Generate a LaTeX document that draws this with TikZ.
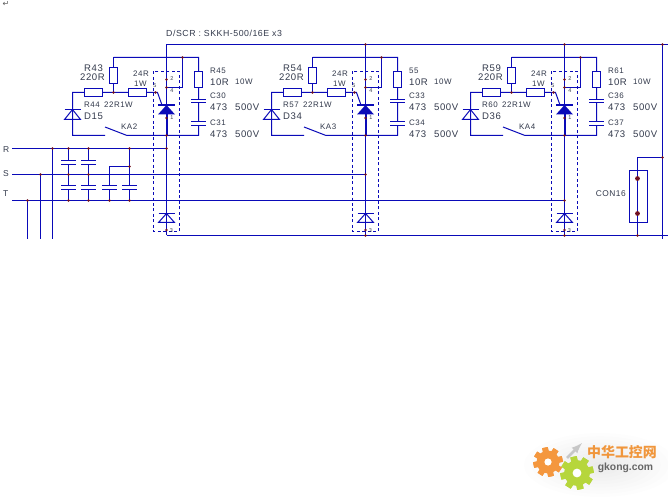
\documentclass[tikz,border=0pt]{standalone}
\usepackage{fontspec}
\setmainfont{Liberation Sans}
\newfontfamily\labfont[LetterSpace=6]{Liberation Sans}
\newfontfamily\cjkfont{Noto Sans CJK SC}
\newfontfamily\symfont{DejaVu Sans}
\usetikzlibrary{calc}
\definecolor{wire}{HTML}{0A0AB8}
\definecolor{junct}{HTML}{701020}
\definecolor{ink}{HTML}{333A4C}
\definecolor{gearO}{HTML}{F4973E}
\definecolor{gearG}{HTML}{B6D63C}
\definecolor{logoO}{HTML}{F0963C}
\tikzset{
  wiring/.style={draw=wire,line width=1bp},
  dashbox/.style={draw=wire,line width=1bp,dash pattern=on 3pt off 2.5pt},
  resH/.style={draw=wire,line width=1bp,fill=white,minimum width=18bp,minimum height=8bp,inner sep=0pt},
  resV/.style={draw=wire,line width=1bp,fill=white,minimum width=8bp,minimum height=16bp,inner sep=0pt},
  big/.style={anchor=west,inner sep=0pt,text=ink,font=\labfont\fontsize{9.6}{10}\selectfont},
  small/.style={anchor=west,inner sep=0pt,text=ink,font=\labfont\fontsize{8}{9}\selectfont},
  tiny/.style={inner sep=0pt,text=ink,font=\fontsize{5.5}{6}\selectfont},
}
\newcommand{\jdot}[1]{\fill[junct] (#1) circle (1.4bp);}
\newcommand{\capplates}[3]{% x, y of plate 1, y of plate 2
  \fill[white] (#1-8,#2) rectangle (#1+8,#3);
  \draw[wire,line width=1bp] (#1-7.5,#2) -- (#1+7.5,#2) (#1-7.5,#3) -- (#1+7.5,#3);}
% one SCR stage, drawn for the first stage's position and shifted
\newcommand{\stagecircuit}[9]{%
\begin{scope}[shift={(#2,0)}]
  \coordinate (top#1) at (166.5,44.5);
  \coordinate (bot#1) at (166.5,235.5);
  \coordinate (railL#1) at (113.5,57.5);
  \coordinate (railJ#1) at (182.5,57.5);
  \coordinate (railR#1) at (198.5,57.5);
  \coordinate (pinC#1) at (182.5,87.5);
  \coordinate (pinB#1) at (166.5,87.5);
  \coordinate (leftT#1) at (72.5,92.5);
  \coordinate (leftB#1) at (72.5,135.5);
  \coordinate (swA#1) at (105,135.5);
  \coordinate (swB#1) at (105,127);
  \coordinate (swC#1) at (127,135.5);
  \coordinate (retJ#1) at (166.5,135.5);
  \coordinate (retR#1) at (198.5,135.5);
  \coordinate (gJ#1) at (155.5,92.5);
  \coordinate (junc#1) at (113.5,92.5);
  % power leg and rails
  \draw[wiring] (top#1) -- (bot#1);
  \draw[wiring] (railL#1) -- (railR#1) -- (retR#1) -- (swC#1) -- (swB#1);
  \draw[wiring] (swA#1) -- (leftB#1) -- (leftT#1) -- (gJ#1) -- (157.5,92.5) -- (162,105);
  \draw[wiring] (railL#1) -- (junc#1);
  \draw[wiring] (railJ#1) -- (pinC#1) -- (pinB#1);
  \node[resV] (Rt#1) at (113.5,75.5) {};
  \node[resH] (Rl#1) at (93.5,92.5) {};
  \node[resH] (Rg#1) at (137.5,92.5) {};
  \node[resV] (Rr#1) at (198.5,79.5) {};
  \capplates{198.5}{99.5}{102.5}
  \capplates{198.5}{121.5}{125.5}
  % left diode
  \draw[wiring] (64.5,119.5) -- (80.5,119.5) -- (72.5,109.5) -- cycle;
  \draw[wiring] (64.5,109.5) -- (80.5,109.5);
  % thyristor
  \fill[wire] (158,114.5) -- (175,114.5) -- (166.5,105) -- cycle;
  \draw[wire,line width=2bp] (158,105) -- (175,105);
  \draw[wire,line width=2bp] (166.5,114) -- (166.5,135);
  % lower diode
  \draw[wiring] (158.5,222.5) -- (174.5,222.5) -- (166.5,213.5) -- cycle;
  \draw[wiring] (158.5,213.5) -- (174.5,213.5);
  % module outline
  \draw[dashbox] (153.5,71.5) rectangle (179.5,231.5);
  % junctions
  \jdot{railJ#1}\jdot{junc#1}\jdot{gJ#1}\jdot{retJ#1}
  \jdot{166.5,79.5}\jdot{pinB#1}\jdot{166.5,118}\jdot{166.5,230}
  % pin numbers
  \node[tiny] at (172,79) {2};
  \node[tiny] at (172,91) {4};
  \node[tiny] at (155,86) {5};
  \node[tiny] at (172,118) {1};
  \node[tiny] at (171.5,231) {3};
  % labels
  \node[big] at (84,68) {#3};
  \node[big] at (80,77.5) {220R};
  \node[small] at (133,74) {24R};
  \node[small] at (134,84) {1W};
  \node[small] at (84,104.5) {#4};
  \node[small] at (104,104.5) {22R1W};
  \node[big] at (84,116) {#5};
  \node[small] at (121,127) {#6};
  \node[small] at (210,71) {#7};
  \node[big] at (210,82) {10R};
  \node[small] at (235,82) {10W};
  \node[small] at (210,96) {#8};
  \node[big] at (210,107.5) {473};
  \node[big] at (235,107.5) {500V};
  \node[small] at (210,122.5) {#9};
  \node[big] at (210,134) {473};
  \node[big] at (235,134) {500V};
\end{scope}}
\newcommand{\gear}[5]{% x,y,radius,colour,hole
  \begin{scope}[shift={(#1,#2)}]
    \foreach \a in {0,45,...,315}{
      \fill[#4,rotate=\a+12] (-#3*0.25,-#3*1.28) rectangle (#3*0.25,#3*1.28);}
    \fill[#4] (0,0) circle ({#3});
    \fill[white] (0,0) circle ({#5});
  \end{scope}}
\begin{document}
\begin{tikzpicture}[x=1bp,y=-1bp]
\useasboundingbox (0,0) rectangle (668,500);
\fill[white] (0,0) rectangle (668,500);

% paragraph mark
\node[inner sep=0pt,text=black!65,font=\symfont\fontsize{8}{9}\selectfont] (mark) at (6,4) {↵};

% title
\node[anchor=west,inner sep=0pt,text=ink,font=\labfont\fontsize{8.8}{9}\selectfont] (title) at (166,33.5) {D/SCR : SKKH-500/16E x3};

% phase labels and lines
\node[anchor=west,inner sep=0pt,text=ink,font=\fontsize{8.5}{9}\selectfont] (lR) at (3,150) {R};
\node[anchor=west,inner sep=0pt,text=ink,font=\fontsize{8.5}{9}\selectfont] (lS) at (3,174) {S};
\node[anchor=west,inner sep=0pt,text=ink,font=\fontsize{8.5}{9}\selectfont] (lT) at (3,194) {T};

\coordinate (Rs) at (12,148.5);
\coordinate (Ss) at (12,174.5);
\coordinate (Ts) at (12,200.5);

% stages
\stagecircuit{a}{0}{R43}{R44}{D15}{KA2}{R45}{C30}{C31}
\stagecircuit{b}{199}{R54}{R57}{D34}{KA3}{55}{C33}{C34}
\stagecircuit{c}{398}{R59}{R60}{D36}{KA4}{R61}{C36}{C37}

% buses
\coordinate (busTR) at (662.5,44.5);
\coordinate (busBR) at (662.5,239);
\coordinate (tapJ) at (662.5,157.5);
\draw[wiring] (topa) -- (668,44.5);
\draw[wiring] (bota) -- (668,235.5);
\draw[wiring] (busTR) -- (busBR);
\draw[wiring] (Rs) -- (166.5,148.5);
\draw[wiring] (Ss) -- (365.5,174.5);
\draw[wiring] (Ts) -- (564.5,200.5);

% feeders
\draw[wiring] (52.5,148.5) -- (52.5,239);
\draw[wiring] (40.5,174.5) -- (40.5,239);
\draw[wiring] (27.5,200.5) -- (27.5,239);
\jdot{52.5,148.5}\jdot{40.5,174.5}\jdot{27.5,200.5}

% input capacitors
\draw[wiring] (68.5,148.5) -- (68.5,200.5);
\draw[wiring] (88.5,148.5) -- (88.5,200.5);
\draw[wiring] (129.5,148.5) -- (129.5,200.5);
\draw[wiring] (129.5,166.5) -- (109.5,166.5) -- (109.5,200.5);
\foreach \cx in {68.5,88.5,129.5,109.5}{
  \capplates{\cx}{185.5}{189.5}
  \jdot{\cx,200.5}
}
\foreach \cx in {68.5,88.5}{
  \capplates{\cx}{160.5}{164.5}
  \jdot{\cx,148.5}\jdot{\cx,174.5}
}
\jdot{129.5,148.5}\jdot{129.5,166.5}\jdot{166.5,148.5}
\jdot{365.5,174.5}\jdot{564.5,200.5}
\jdot{topb}\jdot{topc}\jdot{busTR}
\jdot{botb}\jdot{botc}

% CON16
\coordinate (conT) at (637.5,157.5);
\coordinate (conB) at (637.5,235.5);
\draw[wiring] (tapJ) -- (conT) -- (conB);
\node[draw=wire,line width=1bp,minimum width=18bp,minimum height=52bp,inner sep=0pt] (con) at (638.5,196.5) {};
\fill[junct] (637.5,178.5) circle (2.4bp);
\fill[junct] (637.5,213.5) circle (2.4bp);
\jdot{tapJ}\jdot{conB}
\node[anchor=east,inner sep=0pt,text=ink,font=\labfont\fontsize{8.4}{9}\selectfont] (conlab) at (626,194) {CON16};

% logo
\foreach \r in {4,8,...,40}{
  \fill[black,opacity=0.006] (600,465) ellipse ({\r*1.9} and {\r*0.8});
}
\draw[black!22,line width=2.6bp,-latex] (567,458) -- (582,443);
\gear{548}{462}{11.5}{gearO}{3.6}
\gear{577}{473}{13}{gearG}{4.4}
\node[inner sep=0pt,text=logoO,font=\cjkfont\bfseries\fontsize{14}{15}\selectfont] (logoCN) at (622,452) {中华工控网};
\node[inner sep=0pt,text=black!60,font=\bfseries\fontsize{10.4}{11}\selectfont] (logoEN) at (625.5,468) {gkong.com};
\end{tikzpicture}
\end{document}
